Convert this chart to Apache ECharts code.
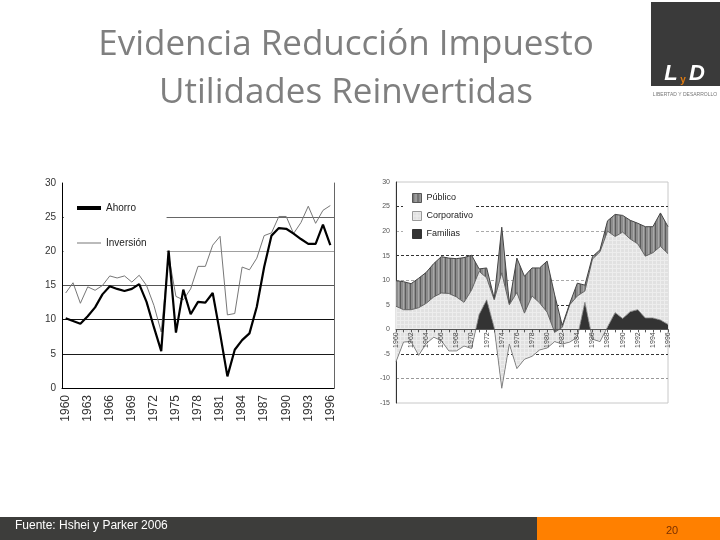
<!DOCTYPE html>
<html>
<head>
<meta charset="utf-8">
<title>Evidencia Reducción Impuesto</title>
<script src="https://cdn.jsdelivr.net/npm/echarts@6/dist/echarts.min.js"></script>
<style>
html, body { margin: 0; padding: 0; background: #fff; }
#main { width: 720px; height: 540px; }
</style>
</head>
<body>
<div id="main"></div>
<script>
// años (eje x de ambos gráficos)
var anios = ['1960','1961','1962','1963','1964','1965','1966','1967','1968','1969',
             '1970','1971','1972','1973','1974','1975','1976','1977','1978','1979',
             '1980','1981','1982','1983','1984','1985','1986','1987','1988','1989',
             '1990','1991','1992','1993','1994','1995','1996'];

// gráfico izquierdo (% del PIB)
var ahorro = [10.2, 9.8, 9.4, 10.5, 11.8, 13.7, 14.9, 14.5, 14.2, 14.5,
              15.2, 12.6, 8.9, 5.4, 20.1, 8.1, 14.4, 10.8, 12.6, 12.5,
              13.9, 8.0, 1.7, 5.6, 7.0, 8.0, 11.9, 17.7, 22.3, 23.4,
              23.3, 22.6, 21.8, 21.1, 21.1, 23.9, 20.9];
var inversion = [13.9, 15.4, 12.4, 14.8, 14.3, 15.0, 16.4, 16.1, 16.4, 15.5,
                 16.5, 15.0, 12.1, 8.2, 19.4, 13.4, 12.9, 14.5, 17.8, 17.8,
                 20.9, 22.2, 10.7, 10.9, 17.7, 17.3, 19.0, 22.3, 22.7, 25.1,
                 25.1, 22.6, 24.2, 26.6, 24.1, 26.0, 26.7];

// gráfico derecho: componentes del ahorro (apilados)
var familias = [-6.6, -2.6, -2.5, -5.3, -2.9, -1.6, -2.3, -4.4, -4.4, -3.4,
                -3.9, 3.0, 6.0, 0.3, -12.0, -3.0, -8.0, -6.1, -5.5, -4.2,
                -3.8, -2.5, -3.0, -2.6, -1.6, 5.5, -2.0, -2.5, 0.5, 3.4,
                2.2, 3.6, 4.0, 2.3, 2.3, 1.9, 1.0];
var corporativo = [11.3, 6.6, 6.5, 9.7, 8.2, 8.2, 9.7, 11.7, 11.0, 8.9,
                   11.9, 8.8, 4.5, 5.7, 23.5, 8.0, 15.5, 9.4, 12.3, 9.6,
                   7.3, 1.9, 3.4, 7.6, 8.4, 2.3, 16.3, 18.3, 19.5, 15.5,
                   17.6, 14.8, 13.4, 12.6, 13.3, 15.0, 14.4];
var publico = [5.2, 5.7, 5.3, 6.0, 6.3, 6.8, 7.4, 7.2, 7.8, 9.1,
               7.1, 0.5, 2.0, 0.3, 9.3, 0.3, 7.0, 7.5, 5.7, 7.1,
               10.4, 7.6, 0.4, 0.3, 2.6, 1.2, 0.5, 0.4, 2.1, 4.5,
               3.4, 3.8, 4.2, 6.0, 5.3, 6.8, 5.5];

var chart = echarts.init(document.getElementById('main'));

// relleno rayado vertical (Público)
function rayas() {
    var c = document.createElement('canvas');
    c.width = 5; c.height = 5;
    var g = c.getContext('2d');
    g.fillStyle = '#8c8c8c'; g.fillRect(0, 0, 5, 5);
    g.fillStyle = '#5c5c5c'; g.fillRect(0, 0, 1, 5);
    g.fillStyle = '#a9a9a9'; g.fillRect(3, 0, 1, 5);
    return { image: c, repeat: 'repeat' };
}
// relleno gris claro punteado (Corporativo)
function punteado() {
    var c = document.createElement('canvas');
    c.width = 4; c.height = 4;
    var g = c.getContext('2d');
    g.fillStyle = '#e1e1e1'; g.fillRect(0, 0, 4, 4);
    g.fillStyle = '#ededed'; g.fillRect(0, 0, 4, 1); g.fillRect(0, 0, 1, 4);
    return { image: c, repeat: 'repeat' };
}
var colPublico = rayas();
var colCorp = punteado();

var fuente = 'Liberation Sans';

// grid derecho: alto 221 px para 45 unidades, el eje x va en el 0
var altoDer = 221, desdeCero = altoDer * 15 / 45;

chart.setOption({
    backgroundColor: '#fff',
    animation: false,
    title: {
        text: 'Evidencia Reducción Impuesto\nUtilidades Reinvertidas',
        left: 341,
        textAlign: 'center',
        top: 16,
        textStyle: {
            fontFamily: 'Open Sans',
            fontWeight: 'normal',
            fontSize: 35,
            lineHeight: 48,
            color: '#7f7f7f'
        }
    },
    legend: [
        {
            orient: 'vertical',
            left: 64,
            top: 195,
            padding: [8, 20, 8, 13],
            backgroundColor: '#fff',
            itemWidth: 24,
            itemHeight: 10,
            itemGap: 25,
            textStyle: { fontFamily: fuente, fontSize: 10, color: '#222' },
            data: [
                { name: 'Ahorro', icon: 'path://M0,0H24V4H0Z', itemStyle: { color: '#000' } },
                { name: 'Inversión', icon: 'path://M0,0H24V1H0Z', itemStyle: { color: '#777' } }
            ]
        },
        {
            orient: 'vertical',
            left: 403,
            top: 187,
            padding: [6, 3, 6, 9],
            backgroundColor: '#fff',
            icon: 'rect',
            itemWidth: 9,
            itemHeight: 9,
            itemGap: 8,
            textStyle: { fontFamily: fuente, fontSize: 9, color: '#222' },
            data: [
                { name: 'Público', itemStyle: { color: colPublico, borderColor: '#555', borderWidth: 1 } },
                { name: 'Corporativo', itemStyle: { color: colCorp, borderColor: '#999', borderWidth: 1 } },
                { name: 'Familias', itemStyle: { color: '#333', borderColor: '#333', borderWidth: 1 } }
            ]
        }
    ],
    grid: [
        { left: 62, top: 183, right: 386, bottom: 152, outerBoundsMode: 'none' },
        { left: 396, top: 182, right: 52, height: altoDer, outerBoundsMode: 'none',
          show: true, borderColor: '#c8c8c8', borderWidth: 1 }
    ],
    xAxis: [
        {
            type: 'category', gridIndex: 0, data: anios, boundaryGap: true,
            axisLine: { lineStyle: { color: '#000', width: 1 } },
            axisTick: { alignWithLabel: true, interval: 0, length: 4, lineStyle: { color: '#333' } },
            axisLabel: { interval: 2, rotate: 90, fontFamily: fuente, fontSize: 12, color: '#333', margin: 7 },
            splitLine: { show: false }
        },
        {
            type: 'category', gridIndex: 1, data: anios, boundaryGap: false, z: 5,
            position: 'bottom', offset: -desdeCero,
            axisLine: { onZero: false, lineStyle: { color: '#555', width: 1 } },
            axisTick: { interval: 0, length: 3, lineStyle: { color: '#555' } },
            axisLabel: { interval: 1, rotate: 90, fontFamily: fuente, fontSize: 7, color: '#444', margin: 3 },
            splitLine: { show: false }
        }
    ],
    yAxis: [
        {
            type: 'value', gridIndex: 0, min: 0, max: 30, interval: 5,
            axisLine: { show: true, lineStyle: { color: '#000' } },
            axisTick: { show: false },
            axisLabel: { fontFamily: fuente, fontSize: 10, color: '#333', margin: 6 },
            splitLine: { lineStyle: { width: 1.2,
                color: ['#000', '#1a1a1a', '#111', '#555', '#a0a0a0', '#666', 'rgba(0,0,0,0)'] } }
        },
        {
            type: 'value', gridIndex: 0, min: 0, max: 30, position: 'right',
            axisLine: { show: true, lineStyle: { color: '#666' } },
            axisTick: { show: false }, axisLabel: { show: false }, splitLine: { show: false }
        },
        {
            type: 'value', gridIndex: 1, min: -15, max: 30, interval: 5,
            axisLine: { show: true, onZero: false, lineStyle: { color: '#333' } },
            axisTick: { show: false },
            axisLabel: { fontFamily: fuente, fontSize: 7, color: '#555', margin: 6 },
            splitLine: { lineStyle: { type: [3, 2], width: 1,
                color: ['rgba(0,0,0,0)', '#999', '#333', '#999', '#333', '#aaa',
                        '#333', '#aaa', '#333', 'rgba(0,0,0,0)'] } }
        }
    ],
    series: [
        {
            name: 'Ahorro', type: 'line', xAxisIndex: 0, yAxisIndex: 0, data: ahorro,
            symbol: 'none', z: 3, color: '#000',
            lineStyle: { color: '#000', width: 2.2 }
        },
        {
            name: 'Inversión', type: 'line', xAxisIndex: 0, yAxisIndex: 0, data: inversion,
            symbol: 'none', z: 2, color: '#777',
            lineStyle: { color: '#777', width: 1 }
        },
        {
            name: 'Familias', type: 'line', xAxisIndex: 1, yAxisIndex: 2, data: familias,
            stack: 'ahorro', stackStrategy: 'all', symbol: 'none',
            itemStyle: { color: '#333' },
            lineStyle: { color: '#777', width: 0.8 },
            areaStyle: { color: '#333', opacity: 1 }
        },
        {
            name: 'Corporativo', type: 'line', xAxisIndex: 1, yAxisIndex: 2, data: corporativo,
            stack: 'ahorro', stackStrategy: 'all', symbol: 'none',
            itemStyle: { color: colCorp },
            lineStyle: { color: '#666', width: 1 },
            areaStyle: { color: colCorp, opacity: 1 }
        },
        {
            name: 'Público', type: 'line', xAxisIndex: 1, yAxisIndex: 2, data: publico,
            stack: 'ahorro', stackStrategy: 'all', symbol: 'none',
            itemStyle: { color: colPublico },
            lineStyle: { color: '#444', width: 1 },
            areaStyle: { color: colPublico, opacity: 1 }
        }
    ],
    graphic: [
        // logo
        { type: 'rect', shape: { x: 651, y: 2, width: 69, height: 84 }, style: { fill: '#3a3a3a' } },
        { type: 'text', x: 671, y: 74, style: { text: 'L', fill: '#fff', font: 'italic bold 22px "Liberation Sans"', textAlign: 'center', textVerticalAlign: 'middle' } },
        { type: 'text', x: 697, y: 74, style: { text: 'D', fill: '#fff', font: 'italic bold 22px "Liberation Sans"', textAlign: 'center', textVerticalAlign: 'middle' } },
        { type: 'text', x: 683, y: 80, style: { text: 'y', fill: '#e07b10', font: 'bold 10px "Liberation Sans"', textAlign: 'center', textVerticalAlign: 'middle' } },
        { type: 'text', x: 685, y: 95, style: { text: 'LIBERTAD Y DESARROLLO', fill: '#777', font: '5px "Liberation Sans"', textAlign: 'center', textVerticalAlign: 'middle' } },
        // pie de página
        { type: 'rect', shape: { x: 0, y: 517, width: 537, height: 23 }, style: { fill: '#3d3d3b' } },
        { type: 'rect', shape: { x: 537, y: 517, width: 183, height: 23 }, style: { fill: '#ff8000' } },
        { type: 'text', x: 15, y: 526, style: { text: 'Fuente: Hshei y Parker 2006', fill: '#fff', font: '12px "Liberation Sans"', textVerticalAlign: 'middle' } },
        { type: 'text', x: 672, y: 531, style: { text: '20', fill: '#7a3000', font: '11px "Liberation Sans"', textAlign: 'center', textVerticalAlign: 'middle' } }
    ]
});
</script>
</body>
</html>
